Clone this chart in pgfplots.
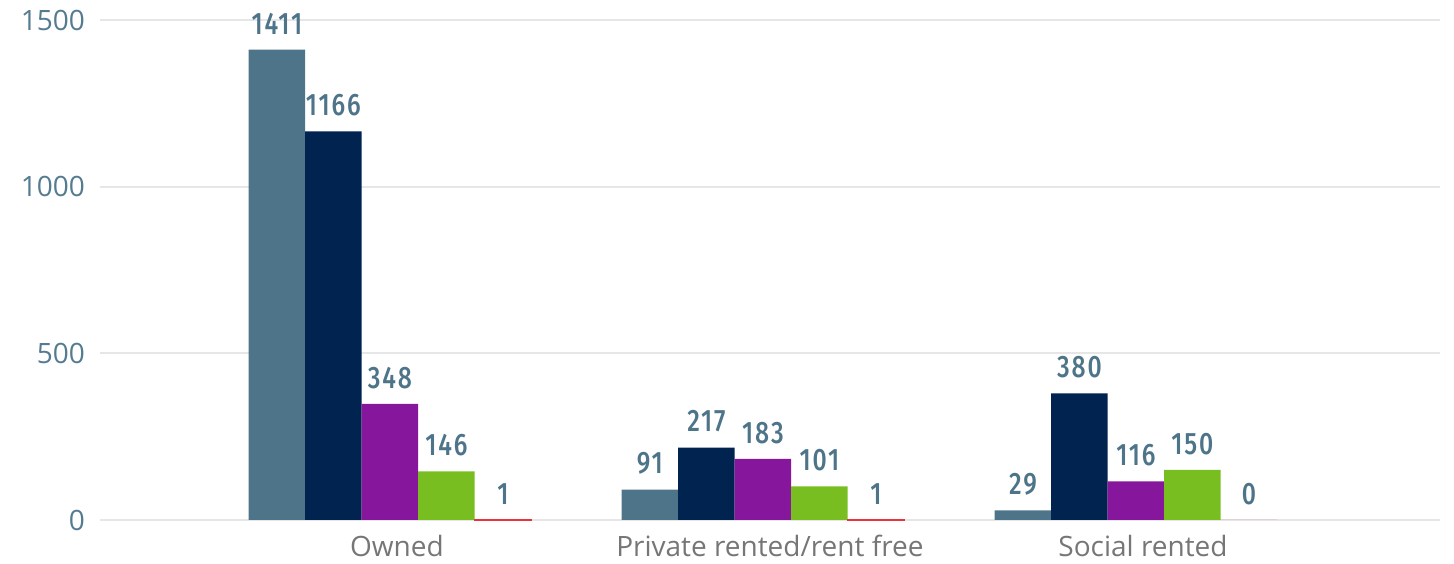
\documentclass[border=0pt]{standalone}
\usepackage{fontspec}
\setmainfont{Open Sans}
\newfontfamily\lblfont[FakeStretch=0.8, LetterSpace=6]{Fira Sans Medium}
\usepackage{pgfplots}
\pgfplotsset{compat=1.18}
\usetikzlibrary{calc}
\definecolor{cA}{HTML}{4E7489}
\definecolor{cB}{HTML}{002350}
\definecolor{cC}{HTML}{86179D}
\definecolor{cD}{HTML}{78BE20}
\definecolor{cE}{HTML}{E8333C}
\definecolor{tickc}{HTML}{557B91}
\definecolor{catc}{HTML}{767676}
\definecolor{gridc}{HTML}{E6E6E6}
\begin{document}
\begin{tikzpicture}
\begin{axis}[
  name=ax,
  scale only axis,
  width=670pt, height=250pt,
  ybar=0pt, bar width=28.25pt,
  ymin=0, ymax=1500,
  ytick={0,500,1000,1500},
  xmin=-0.777, xmax=2.815,
  xtick={0,1,2},
  xticklabels={Owned, Private rented/rent free, Social rented},
  axis line style={draw=none},
  major tick length=0pt,
  ymajorgrids, major grid style={gridc, line width=1pt},
  yticklabel style={font=\fontsize{14}{16}\selectfont, color=tickc, xshift=-4pt},
  xticklabel style={font=\fontsize{14}{16}\selectfont, color=catc, yshift=-4pt, xshift=3.5pt},
  /pgf/number format/assume math mode=true,
  /pgf/number format/1000 sep={},
  nodes near coords,
  every node near coord/.append style={font=\lblfont\fontsize{15.5}{17}\selectfont, color=cA, inner sep=0pt, yshift=7.5pt},
  clip=false,
]
\addplot[fill=cA, draw=none, bar shift=-56.5pt] coordinates {(0,1411) (1,91) (2,29)};
\addplot[fill=cB, draw=none, bar shift=-28.25pt] coordinates {(0,1166) (1,217) (2,380)};
\addplot[fill=cC, draw=none, bar shift=0pt] coordinates {(0,348) (1,183) (2,116)};
\addplot[fill=cD, draw=none, bar shift=28.25pt] coordinates {(0,146) (1,101) (2,150)};
\addplot[fill=cE, draw=none, bar shift=56.5pt] coordinates {(0,1) (1,1) (2,0)};
% outline so the value-1 bars stay visible
\addplot[fill=cE, draw=cE, line width=1pt, bar shift=56.5pt, nodes near coords={}, forget plot] coordinates {(0,1) (1,1)};
\end{axis}
\path[use as bounding box] ($(ax.south west)+(-50pt,-22pt)$) rectangle ($(ax.north east)+(7pt,10pt)$);
\end{tikzpicture}
\end{document}
